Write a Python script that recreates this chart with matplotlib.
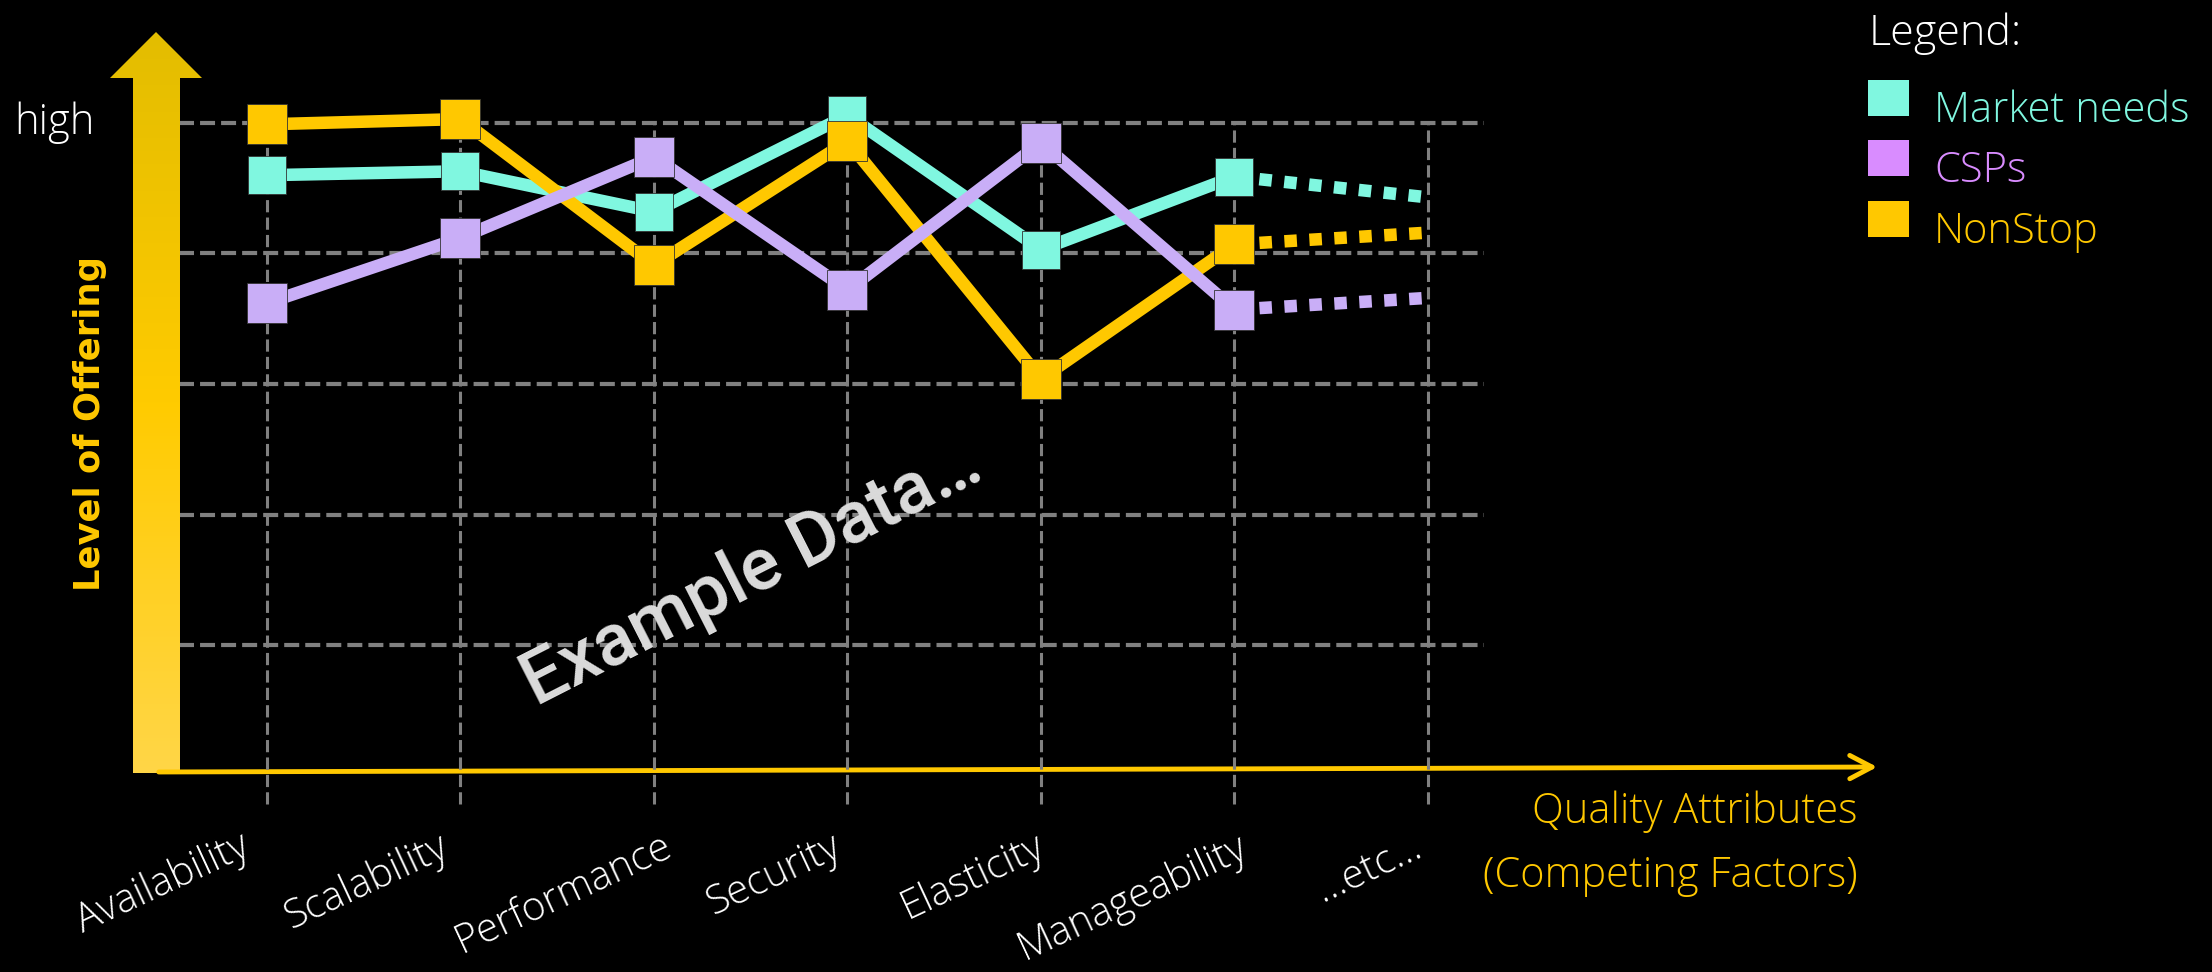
import numpy as np
import matplotlib
matplotlib.use('Agg')
import matplotlib.pyplot as plt
from matplotlib.colors import LinearSegmentedColormap
from matplotlib.patches import Polygon, Rectangle, FancyArrowPatch, ArrowStyle
from matplotlib.transforms import Affine2D

# quality attributes along the x axis
categories = ['Availability', 'Scalability', 'Performance', 'Security',
              'Elasticity', 'Manageability', '\u2026etc\u2026']
levels = [1, 2, 3, 4, 5]

# level of offering per attribute (example data)
market_needs = [4.60, 4.63, 4.32, 5.06, 4.03, 4.59]
csps = [3.62, 4.12, 4.74, 3.72, 4.85, 3.57]
nonstop = [4.99, 5.03, 3.91, 4.86, 3.04, 4.07]
# dotted trend into the "etc" column
market_needs_etc = 4.43
csps_etc = 3.66
nonstop_etc = 4.16

series_names = ['Market needs', 'CSPs', 'NonStop']
line_colors = ['#80F7E0', '#C9AEF7', '#FFC800']
legend_colors = ['#80F7E0', '#D98CFF', '#FFC800']

W, H = 2212, 972
GOLD = '#FFC800'
GRID = '#808080'
LIGHT = dict(family=['Open Sans', 'DejaVu Sans'], weight='light')

fig = plt.figure(figsize=(W / 100, H / 100), dpi=100, facecolor='black')
ax = fig.add_axes([0, 0, 1, 1])
ax.set_facecolor('black')
ax.axis('off')

# layout: pixel position of category 0 / level 5 and step sizes
X0, DX = 267, 193.5
Y5, DY = 123, 130.5
xlim = (-X0 / DX, (W - X0) / DX)
ylim = (5 - (H - Y5) / DY, 5 + Y5 / DY)
# hand placed label offsets (pixels) as in the slide
label_nudge = [-28, -23, 8, -17, -7, 2, -16]

# pixel transform (origin top-left) for decorations
pix = Affine2D().scale(1.0 / W, -1.0 / H).translate(0, 1) + fig.transFigure

# grid
ax.hlines(levels, (179 - X0) / DX, (1484 - X0) / DX, colors=GRID, lw=3,
          linestyles=(0, (3.6, 1.45)), zorder=1)
ax.vlines(range(len(categories)), 5 - (804 - Y5) / DY, 5, colors=GRID, lw=2.2,
          linestyles=(0, (4, 1.7)), zorder=3)

# y axis: thick gradient arrow
arrow_xy = [(133, 773), (180, 773), (180, 78), (202, 78), (156, 32),
            (110, 78), (133, 78)]
shape = Polygon(arrow_xy, closed=True, facecolor='none', edgecolor='none',
                transform=pix)
ax.add_patch(shape)
cmap = LinearSegmentedColormap.from_list('shaft', ['#E3BD00', '#FFCB00', '#FFD647'])
grad = np.linspace(0, 1, 256).reshape(-1, 1)
im = ax.imshow(grad, cmap=cmap, extent=(110, 202, 773, 32), transform=pix,
               aspect='auto', origin='upper', zorder=2)
im.set_clip_path(shape)

# x axis: thin arrow
xarrow = FancyArrowPatch((156, 772), (1880, 767), transform=pix,
                         arrowstyle=ArrowStyle('->', head_length=0.8, head_width=0.42),
                         mutation_scale=20, lw=3.5, color=GOLD, zorder=2)
ax.add_patch(xarrow)

# watermark
ax.text(752, 574, 'Example Data\u2026', transform=pix, fontsize=53,
        color='#DCDCDC', rotation=27, rotation_mode='anchor',
        ha='center', va='center', zorder=4,
        family=['Roboto', 'DejaVu Sans'], weight='medium')

# data lines
x = np.arange(len(market_needs))
all_vals = [market_needs, csps, nonstop]
all_etc = [market_needs_etc, csps_etc, nonstop_etc]
sizes = [27, 29, 29]
zorders = [5, 7, 6]
for vals, etc, color, ms, z in zip(all_vals, all_etc, line_colors, sizes, zorders):
    ax.plot([x[-1], len(categories) - 1], [vals[-1], etc], color=color, lw=9,
            linestyle=(0, (1, 1)), dash_capstyle='butt', zorder=z)
    ax.plot(x, vals, color=color, lw=9, marker='s', ms=ms, mec='#333333',
            mew=0.6, zorder=z)

# category labels
for i, (cat, nudge) in enumerate(zip(categories, label_nudge)):
    ax.text(i + nudge / DX, 5 - (826 - Y5) / DY, cat, fontsize=29, color='white',
            rotation=25, rotation_mode='anchor', ha='right', va='top', **LIGHT)

# axis texts
ax.text(14, 123, 'high', transform=pix, fontsize=30, color='white',
        ha='left', va='center', **LIGHT)
ax.text(90, 423, 'Level of Offering', transform=pix, fontsize=25.5, color=GOLD,
        rotation=90, ha='center', va='center', fontweight='bold',
        family='DejaVu Sans')
ax.text(1858, 823, 'Quality Attributes', transform=pix, fontsize=30, color=GOLD,
        ha='right', va='baseline', **LIGHT)
ax.text(1858, 887, '(Competing Factors)', transform=pix, fontsize=30, color=GOLD,
        ha='right', va='baseline', **LIGHT)

# legend
ax.text(1869, 45, 'Legend:', transform=pix, fontsize=31, color='white',
        ha='left', va='baseline', **LIGHT)
for k, (name, color) in enumerate(zip(series_names, legend_colors)):
    top = 80 + k * 60.5
    ax.add_patch(Rectangle((1868, top + 36), 41, -36, transform=pix,
                           facecolor=color, edgecolor='none'))
    ax.text(1934, 122 + k * 60.5, name, transform=pix, fontsize=30, color=color,
            ha='left', va='baseline', **LIGHT)

ax.set_xlim(*xlim)
ax.set_ylim(*ylim)

fig.savefig('out.png', dpi=100, facecolor='black')
plt.close()
